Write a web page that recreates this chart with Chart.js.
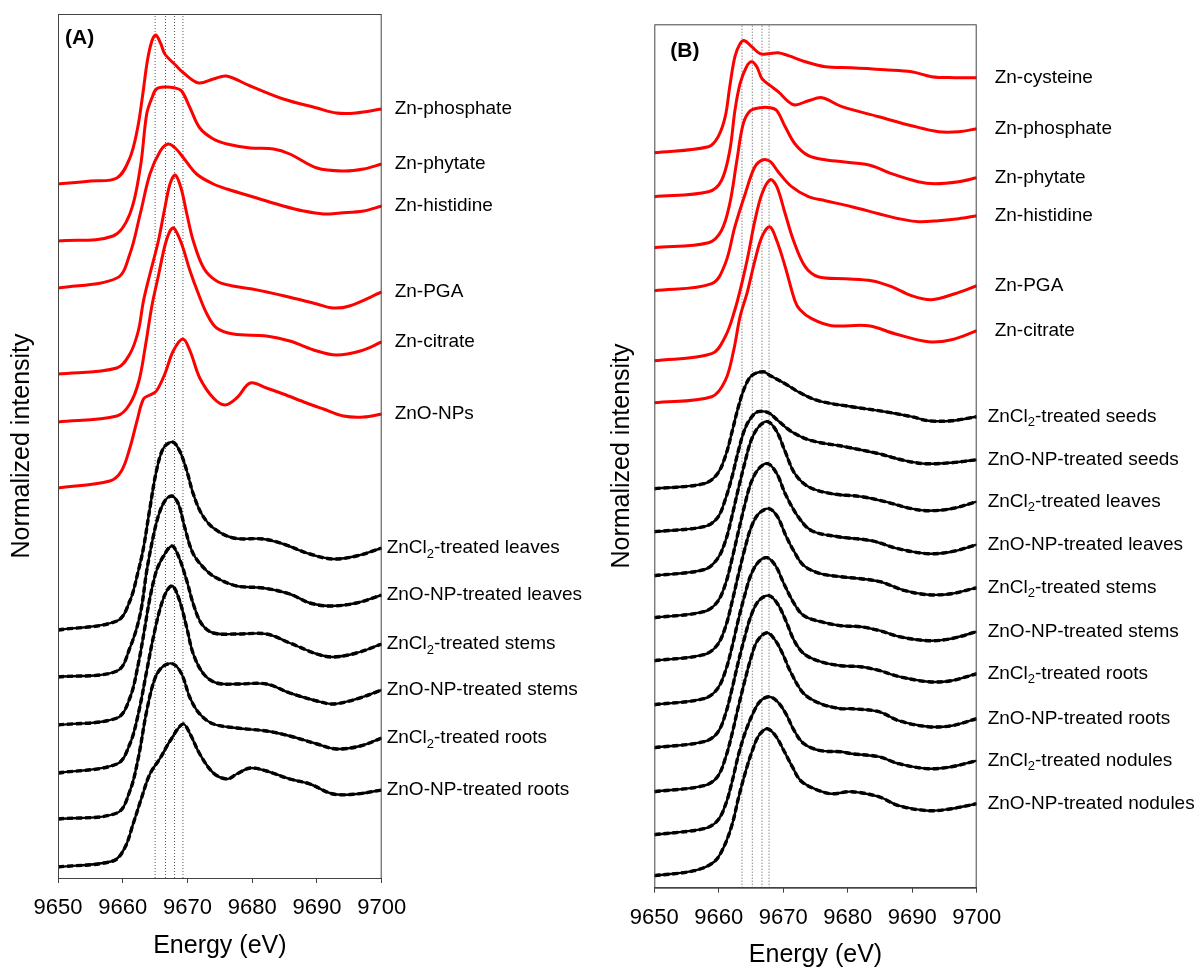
<!DOCTYPE html>
<html>
<head>
<meta charset="utf-8">
<script src="https://cdn.jsdelivr.net/npm/chart.js@4.4.1/dist/chart.umd.min.js"></script>
<style>
  html, body { margin: 0; padding: 0; background: #fff; }
  #wrap { position: relative; width: 1204px; height: 969px; }
  .panel { position: absolute; top: 0; height: 969px; }
</style>
</head>
<body>
<div id="wrap">
  <div class="panel" style="left:0;width:600px"><canvas id="chartA" width="600" height="969"></canvas></div>
  <div class="panel" style="left:600px;width:604px"><canvas id="chartB" width="604" height="969"></canvas></div>
</div>
<script>
// Zn K-edge XANES, два панели (A) и (B)
// каждая кривая: [энергия эВ, нормированная интенсивность со сдвигом]

const FONT = '"Liberation Sans", Arial, sans-serif';

// пунктирные вертикали (эВ)
const guidesA = [9665.0, 9666.6, 9668.0, 9669.3];
const guidesB = [9663.6, 9665.2, 9666.7, 9667.8];

const energyTicks = [9650, 9660, 9670, 9680, 9690, 9700];

// ---- панель A: эталоны ----
const aPhosphate = [[9650,6.94],[9655,6.97],[9659.1,7.00],[9661.1,7.20],[9662.3,7.50],[9663.1,7.84],[9663.8,8.17],[9664.5,8.37],[9665.1,8.43],[9665.9,8.34],[9666.5,8.24],[9668.3,8.12],[9669.4,8.05],[9671.7,7.95],[9674,7.99],[9676,8.02],[9679.7,7.92],[9684.8,7.79],[9690,7.70],[9693,7.65],[9696,7.65],[9700,7.69]];
const aPhytate = [[9650,6.37],[9658.5,6.42],[9661.1,6.64],[9662.7,7.10],[9663.7,7.64],[9664.5,7.80],[9665.2,7.89],[9666.5,7.91],[9668.1,7.90],[9669.1,7.87],[9670.4,7.70],[9671.9,7.50],[9674,7.39],[9676.1,7.34],[9679.7,7.30],[9683.3,7.29],[9685.8,7.24],[9690,7.10],[9694.1,7.07],[9697.2,7.09],[9700,7.14]];
const aHistidine = [[9650,5.90],[9659.1,6.00],[9661.1,6.24],[9662.7,6.64],[9664.2,7.04],[9665.8,7.27],[9667.0,7.34],[9668.1,7.30],[9669.4,7.20],[9671.4,7.04],[9674,6.94],[9676.1,6.89],[9680.7,6.80],[9684.8,6.72],[9687.9,6.67],[9691,6.64],[9693.6,6.65],[9697.2,6.67],[9700,6.72]];
const aPGA = [[9650,5.04],[9659.1,5.10],[9661.1,5.24],[9662.4,5.47],[9663.2,5.77],[9664.2,6.04],[9665.5,6.37],[9666.5,6.70],[9667.3,6.94],[9668.1,7.03],[9669.0,6.90],[9669.9,6.64],[9670.9,6.37],[9672.5,6.10],[9674.5,5.97],[9677,5.92],[9680,5.89],[9685,5.82],[9690,5.74],[9692.5,5.70],[9695,5.72],[9700,5.86]];
const aCitrate = [[9650,4.56],[9659.1,4.62],[9661.1,4.74],[9662.5,4.97],[9663.5,5.32],[9664.5,5.72],[9665.5,6.02],[9666.5,6.32],[9667.3,6.47],[9667.9,6.50],[9669.1,6.34],[9670.4,6.07],[9671.7,5.84],[9673,5.64],[9674.5,5.50],[9677.1,5.44],[9682.2,5.42],[9685.8,5.37],[9690,5.27],[9693,5.23],[9696.7,5.27],[9700,5.36]];
const aZnONP = [[9650,3.90],[9658,3.97],[9659.8,4.07],[9661.1,4.30],[9662.2,4.57],[9663.2,4.79],[9664.2,4.83],[9665.2,4.87],[9666.5,5.04],[9667.8,5.27],[9669.3,5.39],[9670.4,5.27],[9671.9,5.00],[9674,4.80],[9675.8,4.73],[9677.6,4.80],[9679.7,4.95],[9682.2,4.90],[9684.8,4.84],[9688.4,4.75],[9691,4.69],[9694.1,4.62],[9697.2,4.61],[9700,4.64]];

// ---- панель A: образцы (данные и подгонка совпадают) ----
const aLeavesCl = [[9650,2.48],[9659.1,2.57],[9661.1,2.77],[9662.4,3.07],[9663.2,3.30],[9664.2,3.70],[9665.2,4.07],[9666.3,4.30],[9667.7,4.36],[9668.8,4.27],[9669.9,4.07],[9670.9,3.84],[9672.2,3.64],[9674,3.50],[9677.1,3.40],[9681.7,3.39],[9684.8,3.34],[9688.9,3.24],[9692.5,3.19],[9696.1,3.22],[9700,3.30]];
const aLeavesNP = [[9650,2.01],[9659.1,2.07],[9661.1,2.30],[9662.7,2.64],[9663.7,3.07],[9664.6,3.38],[9665.5,3.62],[9666.5,3.77],[9667.6,3.82],[9668.6,3.74],[9669.6,3.50],[9670.9,3.24],[9673,3.07],[9674.5,3.00],[9677.6,2.92],[9681.7,2.90],[9685.8,2.84],[9688.9,2.75],[9692,2.72],[9696.1,2.75],[9700,2.83]];
const aStemsCl = [[9650,1.53],[9659.1,1.60],[9661.1,1.80],[9662.4,2.14],[9663.4,2.50],[9664.2,2.80],[9665.2,3.07],[9666.3,3.22],[9667.6,3.32],[9668.6,3.22],[9669.9,2.97],[9670.9,2.74],[9672.2,2.54],[9674,2.45],[9677.6,2.44],[9682.2,2.44],[9685.8,2.35],[9690,2.24],[9692.5,2.21],[9696.1,2.25],[9700,2.34]];
const aStemsNP = [[9650,1.05],[9659.1,1.14],[9661.1,1.34],[9662.4,1.64],[9663.7,2.07],[9664.7,2.40],[9665.8,2.70],[9666.8,2.87],[9667.7,2.92],[9668.8,2.77],[9669.9,2.50],[9670.9,2.24],[9672.5,2.04],[9674.5,1.95],[9677.6,1.94],[9682.2,1.94],[9685.8,1.85],[9690,1.77],[9692.5,1.74],[9696.1,1.79],[9700,1.88]];
const aRootsCl = [[9650,0.59],[9659.1,0.65],[9661.1,0.87],[9662.4,1.20],[9663.7,1.67],[9665,2.00],[9666.3,2.12],[9667.8,2.14],[9669.1,2.04],[9670.4,1.80],[9671.9,1.64],[9674,1.54],[9677.6,1.50],[9682.2,1.47],[9685.8,1.42],[9690,1.34],[9693,1.29],[9696.7,1.32],[9700,1.40]];
const aRootsNP = [[9650,0.11],[9658.5,0.17],[9660.3,0.30],[9661.6,0.54],[9662.9,0.80],[9664.2,1.04],[9665.8,1.20],[9667.3,1.37],[9669.3,1.54],[9670.4,1.44],[9671.9,1.24],[9674,1.05],[9676.1,0.99],[9677.6,1.04],[9679.7,1.10],[9682.2,1.07],[9685.8,0.99],[9688.9,0.94],[9692.5,0.84],[9696.1,0.84],[9700,0.88]];

const refNamesA = ['Zn-phosphate', 'Zn-phytate', 'Zn-histidine', 'Zn-PGA', 'Zn-citrate', 'ZnO-NPs'];
const refCurvesA = [aPhosphate, aPhytate, aHistidine, aPGA, aCitrate, aZnONP];
const sampleNamesA = ['ZnCl2-treated leaves', 'ZnO-NP-treated leaves', 'ZnCl2-treated stems',
  'ZnO-NP-treated stems', 'ZnCl2-treated roots', 'ZnO-NP-treated roots'];
const sampleCurvesA = [aLeavesCl, aLeavesNP, aStemsCl, aStemsNP, aRootsCl, aRootsNP];

// ---- панель B: эталоны ----
const bCysteine = [[9650,7.35],[9658.4,7.41],[9659.9,7.51],[9661,7.71],[9661.7,8.01],[9662.5,8.31],[9663.3,8.44],[9664,8.47],[9665.1,8.41],[9666.4,8.34],[9667.7,8.34],[9669.2,8.35],[9670.8,8.32],[9673.4,8.26],[9676.5,8.21],[9680.6,8.20],[9685.8,8.18],[9689.9,8.16],[9693,8.11],[9696.6,8.10],[9700,8.10]];
const bPhosphate = [[9650,6.91],[9658.4,6.96],[9660.4,7.07],[9661.7,7.37],[9662.5,7.77],[9663.3,8.04],[9664.3,8.21],[9665.1,8.26],[9665.9,8.21],[9666.7,8.09],[9668,8.02],[9669.2,7.96],[9671.6,7.83],[9673.9,7.87],[9676,7.90],[9679.1,7.81],[9684.8,7.71],[9689.9,7.62],[9694.1,7.56],[9697.2,7.56],[9700,7.59]];
const bPhytate = [[9650,6.40],[9658.4,6.45],[9660.4,6.57],[9661.7,6.84],[9662.8,7.27],[9663.8,7.64],[9664.9,7.77],[9666.4,7.80],[9668,7.80],[9669,7.77],[9670.3,7.61],[9671.8,7.44],[9673.9,7.32],[9676.5,7.28],[9680.6,7.25],[9683.7,7.22],[9686.8,7.14],[9690.9,7.06],[9693.5,7.04],[9697.2,7.06],[9700,7.10]];
const bHistidine = [[9650,5.97],[9658.9,6.04],[9661,6.24],[9662.5,6.61],[9664.1,6.94],[9665.6,7.21],[9666.9,7.28],[9668,7.26],[9669.2,7.16],[9671.3,7.01],[9673.9,6.91],[9676.5,6.87],[9680.6,6.81],[9684.8,6.74],[9687.9,6.69],[9691,6.66],[9694.1,6.67],[9697.2,6.69],[9700,6.72]];
const bPGA = [[9650,5.27],[9658.9,5.34],[9661,5.51],[9662.5,5.78],[9663.6,6.05],[9664.6,6.34],[9665.6,6.67],[9666.7,6.94],[9668,7.08],[9669,7.01],[9670.3,6.74],[9671.6,6.47],[9673.4,6.21],[9675.4,6.11],[9679.6,6.09],[9683.7,6.07],[9686.8,6.01],[9689.9,5.92],[9693,5.88],[9696.6,5.94],[9700,6.02]];
const bCitrate = [[9650,4.85],[9658.9,4.91],[9661,5.07],[9662.3,5.37],[9663.3,5.71],[9664.4,5.95],[9665.6,6.27],[9666.7,6.51],[9667.9,6.61],[9669,6.47],[9670.3,6.21],[9671.8,5.87],[9672.6,5.78],[9674.4,5.69],[9677.5,5.62],[9683.2,5.62],[9687.3,5.54],[9692.5,5.46],[9696.1,5.48],[9700,5.57]];

// ---- панель B: образцы ----
const bSeedsCl = [[9650,3.99],[9657.7,4.04],[9659.8,4.14],[9661.1,4.33],[9662.1,4.57],[9663,4.80],[9664,5.00],[9665.1,5.12],[9666.9,5.16],[9668,5.12],[9670.3,5.04],[9672.3,4.96],[9675.4,4.87],[9680.6,4.81],[9685.8,4.76],[9689.9,4.71],[9692.5,4.67],[9696.1,4.67],[9700,4.71]];
const bSeedsNP = [[9650,3.56],[9657.7,3.61],[9659.8,3.70],[9661,3.88],[9662.1,4.12],[9663,4.36],[9664,4.58],[9665,4.70],[9666.1,4.76],[9667.7,4.75],[9669.2,4.67],[9671.3,4.56],[9674.4,4.47],[9679.6,4.41],[9684.8,4.34],[9688.9,4.27],[9692,4.24],[9696.1,4.25],[9700,4.28]];
const bLeavesCl = [[9650,3.12],[9657.7,3.18],[9659.8,3.29],[9661.1,3.48],[9662.1,3.73],[9663,3.98],[9664,4.24],[9665,4.47],[9666.2,4.61],[9667.6,4.66],[9669,4.56],[9670.3,4.36],[9671.8,4.14],[9673.9,4.01],[9677.5,3.94],[9682.2,3.91],[9685.8,3.86],[9689.9,3.79],[9692.5,3.77],[9696.1,3.79],[9700,3.86]];
const bLeavesNP = [[9650,2.70],[9657.7,2.76],[9659.8,2.86],[9661.1,3.05],[9662.1,3.30],[9663,3.55],[9664,3.82],[9665,4.05],[9666.2,4.19],[9667.6,4.24],[9669,4.14],[9670.3,3.94],[9672.3,3.71],[9674.4,3.57],[9678.5,3.51],[9683.7,3.47],[9687.8,3.39],[9692.5,3.34],[9696.1,3.36],[9700,3.43]];
const bStemsCl = [[9650,2.27],[9657.7,2.33],[9659.8,2.43],[9661.1,2.62],[9662.1,2.87],[9663,3.12],[9664,3.38],[9665,3.60],[9666.2,3.74],[9667.8,3.79],[9669.1,3.71],[9670.4,3.52],[9671.7,3.36],[9673.2,3.22],[9675.8,3.14],[9678.9,3.11],[9682,3.09],[9685,3.06],[9688.9,2.97],[9692.5,2.93],[9696.1,2.94],[9700,3.00]];
const bStemsNP = [[9650,1.83],[9657.7,1.89],[9659.8,1.99],[9661.1,2.18],[9662.1,2.42],[9663,2.67],[9664,2.92],[9665,3.13],[9666.2,3.26],[9667.5,3.30],[9668.8,3.22],[9670.1,3.04],[9671.7,2.84],[9673.2,2.72],[9675.8,2.66],[9678.9,2.62],[9682,2.61],[9685,2.57],[9688,2.51],[9692.5,2.47],[9696,2.49],[9700,2.56]];
const bRootsCl = [[9650,1.40],[9657.7,1.46],[9659.8,1.55],[9661.1,1.75],[9662.1,2.00],[9663,2.25],[9664,2.50],[9665,2.72],[9666.2,2.87],[9667.8,2.92],[9669.1,2.84],[9670.4,2.67],[9671.7,2.47],[9673.2,2.34],[9675.8,2.26],[9678.9,2.22],[9682,2.21],[9685,2.17],[9688,2.11],[9692.5,2.06],[9696,2.07],[9700,2.14]];
const bRootsNP = [[9650,0.96],[9657.7,1.02],[9659.8,1.11],[9661.1,1.31],[9662.1,1.55],[9663,1.80],[9664,2.06],[9665,2.30],[9666,2.47],[9667.5,2.55],[9668.8,2.47],[9669.9,2.34],[9671.2,2.15],[9673.2,1.94],[9675.8,1.84],[9678.9,1.79],[9680.6,1.79],[9684.8,1.76],[9687.9,1.67],[9692.5,1.61],[9696.1,1.62],[9700,1.69]];
const bNodulesCl = [[9650,0.53],[9657.7,0.59],[9659.8,0.67],[9661.1,0.84],[9662.1,1.07],[9663.1,1.34],[9664.2,1.57],[9665.5,1.77],[9666.5,1.87],[9667.8,1.91],[9669.1,1.86],[9670.4,1.74],[9671.7,1.57],[9673.2,1.44],[9675.8,1.37],[9678.9,1.36],[9680.6,1.34],[9684.8,1.31],[9687.9,1.24],[9692.5,1.19],[9696.1,1.21],[9700,1.27]];
const bNodulesNP = [[9650,0.12],[9656.2,0.17],[9659.3,0.26],[9660.8,0.41],[9662.1,0.64],[9663.1,0.91],[9664.2,1.17],[9665.2,1.37],[9666.2,1.52],[9667.5,1.59],[9668.8,1.52],[9670.1,1.37],[9671.4,1.21],[9672.7,1.07],[9674.8,0.99],[9677.4,0.94],[9680.6,0.96],[9684.8,0.91],[9687.9,0.82],[9692.5,0.77],[9696.1,0.79],[9700,0.84]];

const refNamesB = ['Zn-cysteine', 'Zn-phosphate', 'Zn-phytate', 'Zn-histidine', 'Zn-PGA', 'Zn-citrate'];
const refCurvesB = [bCysteine, bPhosphate, bPhytate, bHistidine, bPGA, bCitrate];
const sampleNamesB = ['ZnCl2-treated seeds', 'ZnO-NP-treated seeds', 'ZnCl2-treated leaves',
  'ZnO-NP-treated leaves', 'ZnCl2-treated stems', 'ZnO-NP-treated stems', 'ZnCl2-treated roots',
  'ZnO-NP-treated roots', 'ZnCl2-treated nodules', 'ZnO-NP-treated nodules'];
const sampleCurvesB = [bSeedsCl, bSeedsNP, bLeavesCl, bLeavesNP, bStemsCl, bStemsNP,
  bRootsCl, bRootsNP, bNodulesCl, bNodulesNP];

const toXY = pts => pts.map(([x, y]) => ({ x, y }));

// подпись с нижним индексом в "Cl2"
function drawLabel(ctx, text, x, y) {
  ctx.fillStyle = '#000';
  ctx.textAlign = 'left';
  ctx.textBaseline = 'middle';
  ctx.font = '19px ' + FONT;
  const m = text.match(/^(.*Cl)2(.*)$/);
  if (!m) { ctx.fillText(text, x, y); return; }
  ctx.fillText(m[1], x, y);
  let w = ctx.measureText(m[1]).width;
  ctx.font = '13px ' + FONT;
  ctx.fillText('2', x + w, y + 6);
  w += ctx.measureText('2').width;
  ctx.font = '19px ' + FONT;
  ctx.fillText(m[2], x + w, y);
}

const curveLabels = {
  id: 'curveLabels',
  afterDatasetsDraw(chart, args, opts) {
    const { ctx, chartArea, scales: { y } } = chart;
    ctx.save();
    chart.data.datasets.forEach(ds => {
      if (!ds.tag) return;
      const last = ds.data[ds.data.length - 1];
      const gap = ds.isRef ? opts.refGap : opts.sampleGap;
      drawLabel(ctx, ds.tag, chartArea.right + gap, y.getPixelForValue(last.y));
    });
    ctx.font = 'bold 21px ' + FONT;
    ctx.fillStyle = '#000';
    ctx.textBaseline = 'middle';
    ctx.fillText(opts.letter, chartArea.left + opts.letterDx, chartArea.top + opts.letterDy);
    ctx.strokeStyle = '#444';
    ctx.lineWidth = 1;
    ctx.strokeRect(chartArea.left + 0.5, chartArea.top + 0.5, chartArea.width - 1, chartArea.height);
    ctx.restore();
  }
};

function makePanel(id, p) {
  const datasets = [];

  p.guides.forEach(e => {
    datasets.push({
      data: [{ x: e, y: 0 }, { x: e, y: p.yMax }],
      borderColor: '#555', borderWidth: 1, borderDash: [1, 2],
      pointRadius: 0, tension: 0, order: 10
    });
  });

  p.refCurves.forEach((c, i) => {
    datasets.push({
      data: toXY(c), tag: p.refNames[i], isRef: true,
      borderColor: '#ff0000', borderWidth: 3,
      pointRadius: 0, tension: 0.35, order: 1
    });
  });

  p.sampleCurves.forEach((c, i) => {
    // измерение — сплошная, подгонка — пунктир по той же кривой
    datasets.push({
      data: toXY(c), tag: p.sampleNames[i], isRef: false,
      borderColor: '#000', borderWidth: 2.4,
      pointRadius: 0, tension: 0.35, order: 1
    });
    datasets.push({
      data: toXY(c),
      borderColor: '#000', borderWidth: 3.4, borderDash: [6, 3],
      pointRadius: 0, tension: 0.35, order: 2
    });
  });

  return new Chart(document.getElementById(id), {
    type: 'line',
    data: { datasets },
    plugins: [curveLabels],
    options: {
      responsive: false,
      animation: false,
      events: [],
      layout: { padding: { top: p.padTop, right: p.padRight, left: 0, bottom: 0 } },
      plugins: {
        legend: { display: false },
        tooltip: { enabled: false },
        curveLabels: p.labelOpts
      },
      scales: {
        x: {
          type: 'linear', min: 9650, max: 9700,
          afterBuildTicks: s => { s.ticks = energyTicks.map(v => ({ value: v })); },
          ticks: { callback: v => String(v), color: '#000', font: { size: 22, family: FONT }, padding: 12, maxRotation: 0 },
          grid: { drawOnChartArea: false, drawTicks: true, tickLength: 5, color: '#444' },
          border: { display: true, color: '#444' },
          title: { display: true, text: 'Energy (eV)', color: '#000',
                   font: { size: 25, family: FONT, lineHeight: 1 },
                   padding: { top: 0, bottom: p.xTitlePad } },
          afterFit: s => { s.height = p.xHeight; }
        },
        y: {
          min: 0, max: p.yMax,
          ticks: { display: false },
          grid: { display: false },
          border: { display: false },
          title: { display: true, text: 'Normalized intensity', color: '#000',
                   font: { size: 25, family: FONT, lineHeight: 1 },
                   padding: { top: 10, bottom: 0 } },
          afterFit: s => { s.width = p.yWidth; }
        }
      }
    }
  });
}

makePanel('chartA', {
  guides: guidesA, yMax: 8.64,
  refCurves: refCurvesA, refNames: refNamesA,
  sampleCurves: sampleCurvesA, sampleNames: sampleNamesA,
  padTop: 14, padRight: 218.3, xHeight: 91, yWidth: 58, xTitlePad: 10.5,
  labelOpts: { refGap: 13, sampleGap: 5, letter: '(A)', letterDx: 7, letterDy: 24 }
});

makePanel('chartB', {
  guides: guidesB, yMax: 8.634,
  refCurves: refCurvesB, refNames: refNamesB,
  sampleCurves: sampleCurvesB, sampleNames: sampleNamesB,
  padTop: 24.3, padRight: 227.3, xHeight: 81.3, yWidth: 54.3, xTitlePad: 1.5,
  labelOpts: { refGap: 18, sampleGap: 11, letter: '(B)', letterDx: 16, letterDy: 27 }
});
</script>
</body>
</html>
